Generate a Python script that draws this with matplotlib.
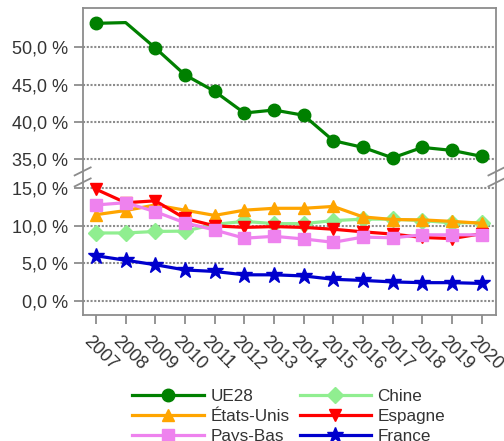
import numpy as np
import matplotlib
matplotlib.use("Agg")
import matplotlib.pyplot as plt
from matplotlib.transforms import ScaledTranslation

plt.rcParams['font.family'] = ['Liberation Sans', 'DejaVu Sans']

years = list(range(2007, 2021))
ue28 = [53.2, 53.3, 49.9, 46.3, 44.1, 41.2, 41.6, 40.9, 37.5, 36.6, 35.2, 36.6, 36.2, 35.4]
chine = [9.05, 9.05, 9.25, 9.3, 10.2, 10.6, 10.3, 10.3, 10.7, 10.9, 10.9, 10.7, 10.4, 10.45]
etats_unis = [11.5, 12.05, 12.8, 12.1, 11.4, 12.1, 12.35, 12.35, 12.6, 11.2, 10.85, 10.8, 10.6, 10.35]
espagne = [14.9, 13.1, 13.35, 11.0, 10.0, 9.8, 9.9, 9.8, 9.55, 9.2, 8.9, 8.45, 8.3, 8.95]
pays_bas = [12.8, 13.1, 11.9, 10.4, 9.45, 8.35, 8.6, 8.25, 7.8, 8.5, 8.4, 8.8, 8.8, 8.8]
france = [6.0, 5.4, 4.8, 4.1, 3.9, 3.45, 3.45, 3.3, 2.85, 2.7, 2.5, 2.4, 2.4, 2.3]
yticks = [0, 5, 10, 15, 35, 40, 45, 50]

GAP = 16.1
LOW, HIGH = 15.0, 35.0
MID = HIGH - GAP


def fwd(y):
    y = np.asarray(y, float)
    return np.where(y <= LOW, y,
                    np.where(y >= HIGH, y - GAP, LOW + (y - LOW) * (MID - LOW) / (HIGH - LOW)))


def inv(u):
    u = np.asarray(u, float)
    return np.where(u <= LOW, u,
                    np.where(u >= MID, u + GAP, LOW + (u - LOW) * (HIGH - LOW) / (MID - LOW)))


fig = plt.figure(figsize=(5.04, 4.41), dpi=100)
ax = fig.add_axes([0.164, 0.286, 0.821, 0.696])
ax.set_yscale('function', functions=(fwd, inv))

spine_col = '#8c8c8c'
grid_col = '#8c8c8c'
text_col = '#333333'

for yv in yticks:
    ax.axhline(yv, color=grid_col, lw=1.5, ls=(0, (1, 0.8)), zorder=1)

lw = 2.3
ax.plot(years, ue28, color='#008000', lw=lw, marker='o', ms=9,
        markevery=[i for i in range(len(years)) if i != 1], label='UE28', zorder=3)
ax.plot(years, chine, color='#90EE90', lw=lw, marker='D', ms=8, label='Chine', zorder=3)
ax.plot(years, etats_unis, color='#FFA500', lw=lw, marker='^', ms=9, label='États-Unis', zorder=4)
ax.plot(years, espagne, color='#FF0000', lw=lw, marker='v', ms=9, label='Espagne', zorder=5)
ax.plot(years, pays_bas, color='#EE82EE', lw=lw, marker='s', ms=9, label='Pays-Bas', zorder=6)
ax.plot(years, france, color='#0000CD', lw=lw, marker='*', ms=12, label='France', zorder=7)

ax.set_xlim(2006.55, 2020.5)
ax.set_ylim(-1.91, 55.26)
ax.set_xticks(years)
ax.set_xticklabels([str(y) for y in years])
ax.set_yticks(yticks)
ax.set_yticklabels([f"{v:.1f}".replace('.', ',') + ' %' for v in yticks])
ax.minorticks_off()

for s in ax.spines.values():
    s.set_color(spine_col)
    s.set_linewidth(1.3)
ax.tick_params(axis='both', colors=spine_col, labelcolor=text_col, labelsize=13,
               length=6.5, width=1.3, direction='out')
ax.tick_params(axis='y', pad=4.0)
ax.tick_params(axis='x', pad=6.5)

off = ScaledTranslation(-4 / 100, 0, fig.dpi_scale_trans)
for lab in ax.get_xticklabels():
    lab.set_rotation(-45)
    lab.set_ha('left')
    lab.set_va('top')
    lab.set_rotation_mode('anchor')
    lab.set_transform(lab.get_transform() + off)

# break marks
brk_y = (315 - 177) / (315 - 8)
for xa in (0, 1):
    for dy in (-5.5, 5.5):
        yc = brk_y + dy / (441 * 0.696)
        ax.plot([xa - 8 / (504 * 0.821), xa + 8 / (504 * 0.821)],
                [yc - 4 / (441 * 0.696), yc + 4 / (441 * 0.696)],
                transform=ax.transAxes, color=spine_col, lw=1.3, clip_on=False, zorder=10)

h, l = ax.get_legend_handles_labels()
order = ['UE28', 'États-Unis', 'Pays-Bas', 'Chine', 'Espagne', 'France']
hd = dict(zip(l, h))
leg = fig.legend([hd[k] for k in order], order, ncol=2, loc='upper center',
                 bbox_to_anchor=(0.573, 0.118), bbox_transform=fig.transFigure,
                 frameon=False, fontsize=12.3, handlelength=4.2, handletextpad=0.36,
                 columnspacing=0.6, labelspacing=0.3, borderpad=0, borderaxespad=0)
for t in leg.get_texts():
    t.set_color(text_col)

fig.savefig('out.png', dpi=100)
